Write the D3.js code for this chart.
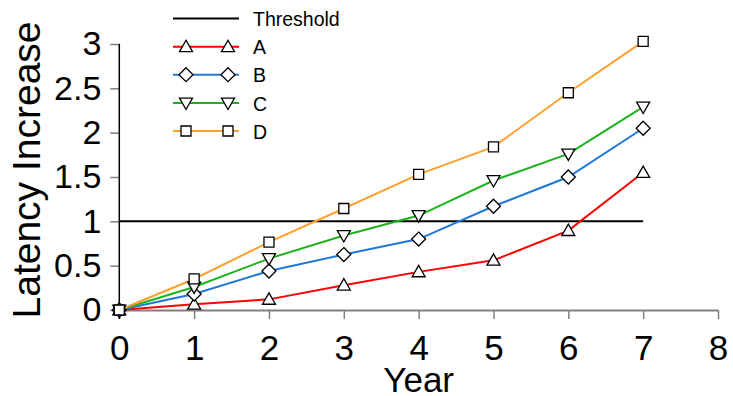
<!DOCTYPE html>
<html><head><meta charset="utf-8">
<script src="https://cdn.jsdelivr.net/npm/d3@7"></script>
<style>body{margin:0;background:#fff}svg{display:block;font-family:"Liberation Sans",Arial,sans-serif}</style>
</head><body><svg id="c" width="733" height="396"></svg>
<script>
const years = [0,1,2,3,4,5,6,7];
const seriesA = [0,0.065,0.12,0.28,0.43,0.56,0.895,1.55];
const seriesB = [0,0.18,0.44,0.625,0.80,1.17,1.50,2.05];
const seriesC = [0,0.26,0.58,0.84,1.065,1.46,1.76,2.29];
const seriesD = [0,0.35,0.765,1.145,1.53,1.84,2.45,3.03];
const threshold = 1;
const xTicks = [0,1,2,3,4,5,6,7,8];
const yTicks = [0,0.5,1,1.5,2,2.5,3];
const seriesNames = ["A","B","C","D"];
const seriesColors = ["#ff0000","#1f78d8","#1cb41c","#ffa02e"];
const seriesShapes = ["tri","diamond","triDown","square"];
const seriesData = [seriesA,seriesB,seriesC,seriesD];

const svg = d3.select("#c");
const x = d3.scaleLinear().domain([0,8]).range([119.3,718]);
const y = d3.scaleLinear().domain([0,3]).range([310,44]);

// x axis
const xa = svg.append("g").attr("transform","translate(0,310)")
  .call(d3.axisBottom(x).tickValues(xTicks).tickSize(9).tickSizeOuter(0).tickPadding(16));
xa.select(".domain").attr("stroke","#808080").attr("stroke-width",2);
xa.selectAll(".tick line").attr("stroke","#808080").attr("stroke-width",1.5);
xa.selectAll(".tick text").attr("font-size",35).attr("fill","#000").attr("font-family","Liberation Sans, Arial, sans-serif");

// y axis
const ya = svg.append("g").attr("transform","translate(119.3,0)")
  .call(d3.axisLeft(y).tickValues(yTicks).tickSize(9).tickSizeOuter(0).tickPadding(9).tickFormat(d3.format("")));
ya.select(".domain").remove();
ya.selectAll(".tick line").attr("stroke","#808080").attr("stroke-width",1.5);
ya.selectAll(".tick text").attr("font-size",34).attr("fill","#000").attr("font-family","Liberation Sans, Arial, sans-serif");
svg.append("line").attr("x1",x(0)).attr("x2",x(0)).attr("y1",y(3)).attr("y2",y(0)+9)
  .attr("stroke","#000").attr("stroke-width",1.5);

// titles
svg.append("text").attr("x",x(4)).attr("y",392).attr("text-anchor","middle")
  .attr("font-size",35).text("Year");
svg.append("text").attr("transform","translate(40,170) rotate(-90)").attr("text-anchor","middle")
  .attr("font-size",39).text("Latency Increase");

// threshold
svg.append("line").attr("x1",x(0)).attr("x2",x(7)).attr("y1",y(threshold)).attr("y2",y(threshold))
  .attr("stroke","#000").attr("stroke-width",2);

function marker(g, shape, cx, cy){
  let p;
  const s=6.5;
  if(shape==="tri") p=`M${cx},${cy-s} L${cx+s},${cy+s*0.75} L${cx-s},${cy+s*0.75} Z`;
  else if(shape==="triDown") p=`M${cx},${cy+s} L${cx+s},${cy-s*0.75} L${cx-s},${cy-s*0.75} Z`;
  else if(shape==="diamond") p=`M${cx},${cy-s-0.5} L${cx+s+0.5},${cy} L${cx},${cy+s+0.5} L${cx-s-0.5},${cy} Z`;
  else p=`M${cx-5},${cy-5} h10 v10 h-10 Z`;
  g.append("path").attr("d",p).attr("fill","#fff").attr("stroke","#000").attr("stroke-width",1.3);
}

const line = d3.line().x((d,i)=>x(years[i])).y(d=>y(d));
seriesData.forEach((vals,k)=>{
  svg.append("path").datum(vals).attr("d",line).attr("fill","none")
    .attr("stroke",seriesColors[k]).attr("stroke-width",2);
});
seriesData.forEach((vals,k)=>{
  const g=svg.append("g");
  vals.forEach((v,i)=>marker(g,seriesShapes[k],x(years[i]),y(v)));
});

// legend
const leg = svg.append("g");
const legY = [18.5,46.7,74.7,103,131];
leg.append("line").attr("x1",173).attr("x2",239).attr("y1",legY[0]).attr("y2",legY[0]).attr("stroke","#000").attr("stroke-width",2);
leg.append("text").attr("x",253).attr("y",legY[0]+7.5).attr("font-size",19.5).text("Threshold");
seriesNames.forEach((n,k)=>{
  const yy=legY[k+1];
  leg.append("line").attr("x1",173).attr("x2",239).attr("y1",yy).attr("y2",yy).attr("stroke",seriesColors[k]).attr("stroke-width",2);
  marker(leg,seriesShapes[k],186,yy);
  marker(leg,seriesShapes[k],228,yy);
  leg.append("text").attr("x",253).attr("y",yy+7.5).attr("font-size",19.5).text(n);
});
</script></body></html>
